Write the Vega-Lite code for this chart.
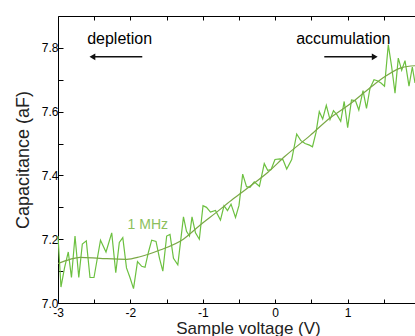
{
  "$schema": "https://vega.github.io/schema/vega-lite/v6.json",
  "autosize": {"type": "none"},
  "padding": {"left": 58, "top": 16, "right": 0, "bottom": 33},
  "width": 357,
  "height": 287,
  "background": "white",
  "config": {
    "view": {"stroke": null},
    "axis": {
      "grid": false,
      "domainColor": "#000000",
      "tickColor": "#000000",
      "labelColor": "#000000",
      "titleColor": "#222222",
      "labelFont": "Liberation Sans",
      "titleFont": "Liberation Sans",
      "labelFontSize": 12,
      "titleFontWeight": "normal"
    }
  },
  "datasets": {
    "noisy": [
      {"v": -3.000, "c": 7.21}, {"v": -2.959, "c": 7.05}, {"v": -2.910, "c": 7.11}, {"v": -2.858, "c": 7.16},
      {"v": -2.814, "c": 7.08}, {"v": -2.765, "c": 7.21}, {"v": -2.713, "c": 7.08}, {"v": -2.664, "c": 7.185},
      {"v": -2.609, "c": 7.195}, {"v": -2.558, "c": 7.08}, {"v": -2.503, "c": 7.08}, {"v": -2.413, "c": 7.197},
      {"v": -2.337, "c": 7.16}, {"v": -2.258, "c": 7.22}, {"v": -2.202, "c": 7.095}, {"v": -2.153, "c": 7.19},
      {"v": -2.105, "c": 7.205}, {"v": -2.054, "c": 7.11}, {"v": -2.006, "c": 7.08}, {"v": -1.957, "c": 7.045},
      {"v": -1.902, "c": 7.13}, {"v": -1.844, "c": 7.115}, {"v": -1.798, "c": 7.112}, {"v": -1.750, "c": 7.16},
      {"v": -1.706, "c": 7.197}, {"v": -1.646, "c": 7.193}, {"v": -1.598, "c": 7.14}, {"v": -1.552, "c": 7.10},
      {"v": -1.499, "c": 7.21}, {"v": -1.453, "c": 7.215}, {"v": -1.405, "c": 7.14}, {"v": -1.345, "c": 7.12},
      {"v": -1.267, "c": 7.27}, {"v": -1.225, "c": 7.225}, {"v": -1.184, "c": 7.21}, {"v": -1.149, "c": 7.27},
      {"v": -1.101, "c": 7.22}, {"v": -1.048, "c": 7.20}, {"v": -0.997, "c": 7.305}, {"v": -0.949, "c": 7.30},
      {"v": -0.894, "c": 7.285}, {"v": -0.825, "c": 7.29}, {"v": -0.756, "c": 7.26}, {"v": -0.707, "c": 7.305},
      {"v": -0.659, "c": 7.29}, {"v": -0.610, "c": 7.31}, {"v": -0.548, "c": 7.268}, {"v": -0.500, "c": 7.306},
      {"v": -0.449, "c": 7.404}, {"v": -0.396, "c": 7.365}, {"v": -0.348, "c": 7.363}, {"v": -0.289, "c": 7.38},
      {"v": -0.218, "c": 7.366}, {"v": -0.151, "c": 7.437}, {"v": -0.104, "c": 7.416}, {"v": -0.058, "c": 7.418},
      {"v": -0.003, "c": 7.45}, {"v": 0.066, "c": 7.452}, {"v": 0.108, "c": 7.449}, {"v": 0.159, "c": 7.42},
      {"v": 0.228, "c": 7.45}, {"v": 0.297, "c": 7.53}, {"v": 0.352, "c": 7.51}, {"v": 0.412, "c": 7.50},
      {"v": 0.474, "c": 7.495}, {"v": 0.515, "c": 7.49}, {"v": 0.564, "c": 7.535}, {"v": 0.609, "c": 7.60},
      {"v": 0.656, "c": 7.577}, {"v": 0.706, "c": 7.62}, {"v": 0.757, "c": 7.575}, {"v": 0.805, "c": 7.603},
      {"v": 0.854, "c": 7.59}, {"v": 0.905, "c": 7.57}, {"v": 0.953, "c": 7.632}, {"v": 1.001, "c": 7.55},
      {"v": 1.054, "c": 7.637}, {"v": 1.109, "c": 7.634}, {"v": 1.155, "c": 7.605}, {"v": 1.213, "c": 7.666},
      {"v": 1.261, "c": 7.61}, {"v": 1.309, "c": 7.673}, {"v": 1.365, "c": 7.70}, {"v": 1.410, "c": 7.697},
      {"v": 1.461, "c": 7.69}, {"v": 1.510, "c": 7.68}, {"v": 1.562, "c": 7.81}, {"v": 1.609, "c": 7.74},
      {"v": 1.655, "c": 7.658}, {"v": 1.700, "c": 7.768}, {"v": 1.747, "c": 7.73}, {"v": 1.793, "c": 7.76},
      {"v": 1.848, "c": 7.68}, {"v": 1.894, "c": 7.74}, {"v": 1.931, "c": 7.69}
    ],
    "fit": [
      {"v": -3.0, "c": 7.124}, {"v": -2.834, "c": 7.137}, {"v": -2.696, "c": 7.143}, {"v": -2.42, "c": 7.14},
      {"v": -2.051, "c": 7.137}, {"v": -1.867, "c": 7.145}, {"v": -1.591, "c": 7.166}, {"v": -1.269, "c": 7.20},
      {"v": -1.039, "c": 7.244}, {"v": -0.808, "c": 7.285}, {"v": -0.579, "c": 7.327}, {"v": -0.348, "c": 7.366},
      {"v": -0.10, "c": 7.41}, {"v": 0.135, "c": 7.46}, {"v": 0.48, "c": 7.525}, {"v": 0.757, "c": 7.58},
      {"v": 1.033, "c": 7.624}, {"v": 1.31, "c": 7.675}, {"v": 1.517, "c": 7.71}, {"v": 1.747, "c": 7.738},
      {"v": 1.931, "c": 7.744}
    ],
    "arrows": [
      {"v": -2.53, "v2": -1.836, "c": 7.772},
      {"v": 0.678, "v2": 1.37, "c": 7.772}
    ],
    "heads": [
      {"v": -2.525, "c": 7.772, "dir": "left"},
      {"v": 1.375, "c": 7.772, "dir": "right"}
    ],
    "labels": [
      {"v": -2.149, "c": 7.829, "t": "depletion"},
      {"v": 0.941, "c": 7.829, "t": "accumulation"}
    ],
    "freq": [
      {"v": -1.76, "c": 7.245, "t": "1 MHz"}
    ]
  },
  "layer": [
    {
      "data": {"name": "noisy"},
      "mark": {"type": "line", "color": "#6cc040", "strokeWidth": 1.2},
      "encoding": {
        "x": {
          "field": "v", "type": "quantitative",
          "scale": {"domain": [-3, 1.931], "nice": false, "zero": false},
          "axis": {
            "orient": "bottom",
            "values": [-3, -2.5, -2, -1.5, -1, -0.5, 0, 0.5, 1, 1.5],
            "labelExpr": "datum.value % 1 === 0 ? '' + datum.value : ''",
            "tickSize": -4,
            "labelPadding": 8,
            "labelFlush": false,
            "title": "Sample voltage (V)",
            "titleFontSize": 17,
            "titleX": 190,
            "titleY": 30,
            "titleBaseline": "alphabetic",
            "titleAlign": "center"
          }
        },
        "y": {
          "field": "c", "type": "quantitative",
          "scale": {"domain": [7.0, 7.9], "nice": false, "zero": false},
          "axis": {
            "values": [7.0, 7.1, 7.2, 7.3, 7.4, 7.5, 7.6, 7.7, 7.8],
            "labelExpr": "round(datum.value * 10) % 2 === 0 ? format(datum.value, '.1f') : ''",
            "tickSize": -5,
            "labelPadding": 5,
            "labelFlush": false,
            "title": "Capacitance (aF)",
            "titleFontSize": 18,
            "titleAngle": -90,
            "titleX": -30,
            "titleBaseline": "alphabetic",
            "titleAlign": "center"
          }
        }
      }
    },
    {
      "data": {"name": "fit"},
      "mark": {"type": "line", "color": "#7aa845", "strokeWidth": 1.2, "interpolate": "monotone"},
      "encoding": {
        "x": {
          "field": "v", "type": "quantitative",
          "axis": {
            "orient": "top",
            "values": [-3, -2.5, -2, -1.5, -1, -0.5, 0, 0.5, 1, 1.5],
            "labels": false,
            "tickSize": -4,
            "title": null
          }
        },
        "y": {"field": "c", "type": "quantitative", "axis": null}
      }
    },
    {
      "data": {"name": "arrows"},
      "mark": {"type": "rule", "color": "#111111", "strokeWidth": 1.6},
      "encoding": {
        "x": {"field": "v", "type": "quantitative", "axis": null},
        "x2": {"field": "v2"},
        "y": {"field": "c", "type": "quantitative", "axis": null}
      }
    },
    {
      "data": {"name": "heads"},
      "mark": {"type": "point", "filled": true, "color": "#111111", "opacity": 1, "size": 45},
      "encoding": {
        "x": {"field": "v", "type": "quantitative", "axis": null},
        "y": {"field": "c", "type": "quantitative", "axis": null},
        "shape": {
          "field": "dir", "type": "nominal",
          "scale": {"domain": ["left", "right"], "range": ["triangle-left", "triangle-right"]},
          "legend": null
        }
      }
    },
    {
      "data": {"name": "labels"},
      "mark": {"type": "text", "font": "Liberation Sans", "fontSize": 16, "color": "#000000", "align": "center", "baseline": "middle"},
      "encoding": {
        "x": {"field": "v", "type": "quantitative", "axis": null},
        "y": {"field": "c", "type": "quantitative", "axis": null},
        "text": {"field": "t"}
      }
    },
    {
      "data": {"name": "freq"},
      "mark": {"type": "text", "font": "Liberation Sans", "fontSize": 14, "color": "#8cbf5c", "align": "center", "baseline": "middle"},
      "encoding": {
        "x": {"field": "v", "type": "quantitative", "axis": null},
        "y": {"field": "c", "type": "quantitative", "axis": null},
        "text": {"field": "t"}
      }
    }
  ],
  "resolve": {"axis": {"x": "independent", "y": "independent"}}
}
